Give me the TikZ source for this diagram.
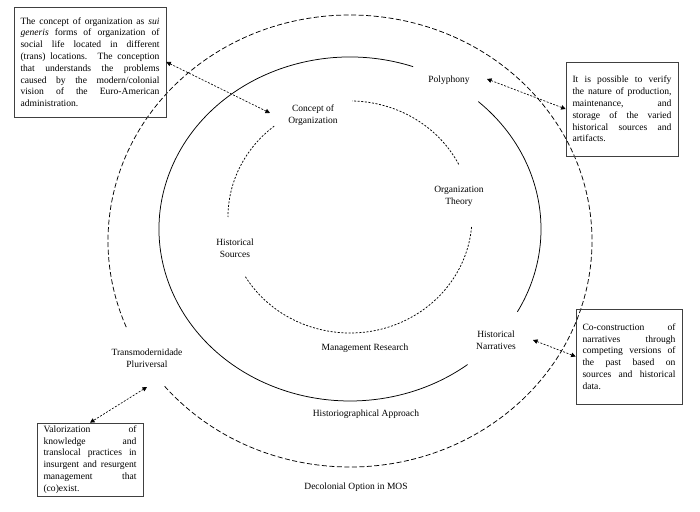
\documentclass[tikz,border=0pt]{standalone}
\usepackage{fontspec}
\setmainfont{Liberation Serif}
\usetikzlibrary{arrows.meta}
\begin{document}
\begin{tikzpicture}[x=1pt,y=1pt,
  lbl/.style={font=\fontsize{9.5}{12}\selectfont, align=center, inner sep=0pt},
  infobox/.style={draw=black!75, line width=0.7pt, font=\fontsize{9.6}{11.8}\selectfont, align=justify, inner xsep=6.5pt, inner ysep=0pt},
  outerring/.style={line width=0.75pt, dash pattern=on 5pt off 2.5pt},
  midring/.style={line width=0.75pt},
  innerring/.style={line width=0.75pt, dash pattern=on 2pt off 1.6pt},
  link/.style={line width=0.65pt, dash pattern=on 2pt off 1.5pt, {Triangle[length=4.5pt,width=4.5pt]}-{Triangle[length=4.5pt,width=4.5pt]}}
]
\useasboundingbox (0,0) rectangle (700,511);

% rings
\draw[outerring] (350,270) ++(220:242 and 226) arc[start angle=220, end angle=562.4, x radius=242, y radius=226];
\draw[midring] (350,282) ++(-28.8:191 and 172) arc[start angle=-28.8, end angle=47.8, x radius=191, y radius=172];
\draw[midring] (350,282) ++(70.7:191 and 172) arc[start angle=70.7, end angle=308, x radius=191, y radius=172];
\draw[innerring] (350,294) ++(211:122 and 116) arc[start angle=211, end angle=355.8, x radius=122, y radius=116];
\draw[innerring] (350,294) ++(27:122 and 116) arc[start angle=27, end angle=89, x radius=122, y radius=116];
\draw[innerring] (350,294) ++(128.4:122 and 116) arc[start angle=128.4, end angle=180, x radius=122, y radius=116];

% labels
\node[lbl] (concept) at (313,396) {Concept of\\Organization};
\node[lbl] (polyphony) at (449,431) {Polyphony};
\node[lbl] (orgtheory) at (459,315) {Organization\\Theory};
\node[lbl] (histsources) at (235,263) {Historical\\Sources};
\node[lbl] (mgmt) at (365,163) {Management Research};
\node[lbl] (narratives) at (496,171) {Historical\\Narratives};
\node[lbl] (transmod) at (147,153) {Transmodernidade\\Pluriversal};
\node[lbl] (histapproach) at (366,97) {Historiographical Approach};
\node[lbl] (decolonial) at (356,24) {Decolonial Option in MOS};

% boxes
\node[infobox, text width=139pt, minimum width=152pt, minimum height=110pt] (boxTL) at (90,449) {The concept of organization as \emph{sui}\linebreak \emph{generis} forms of organization of\linebreak social life located in different\linebreak (trans) locations. The conception\linebreak that understands the problems\linebreak caused by the modern/colonial\linebreak vision of the Euro-American\linebreak administration.};
\node[infobox, text width=99pt, minimum width=112pt, minimum height=94pt] (boxPoly) at (622,402) {It is possible to verify\linebreak the nature of production,\linebreak maintenance, and\linebreak storage of the varied\linebreak historical sources and\linebreak artifacts.};
\node[infobox, text width=93pt, minimum width=106pt, minimum height=95pt] (boxCo) at (629,154.5) {Co-construction of\linebreak narratives through\linebreak competing versions of\linebreak the past based on\linebreak sources and historical\linebreak data.};
\node[infobox, text width=93pt, minimum width=106pt, minimum height=73pt] (boxVal) at (90,51.5) {Valorization of\linebreak knowledge and\linebreak translocal practices in\linebreak insurgent and resurgent\linebreak management that\linebreak (co)exist.};

% connectors
\coordinate (cA) at (270,398);
\coordinate (cB) at (487,432);
\coordinate (cC) at (533,171);
\coordinate (cD) at (147,124);
\draw[link] (boxTL.east) -- (cA);
\draw[link] (cB) -- (boxPoly.west);
\draw[link] (cC) -- (boxCo.west);
\draw[link] (cD) -- (boxVal.north);
\end{tikzpicture}
\end{document}
